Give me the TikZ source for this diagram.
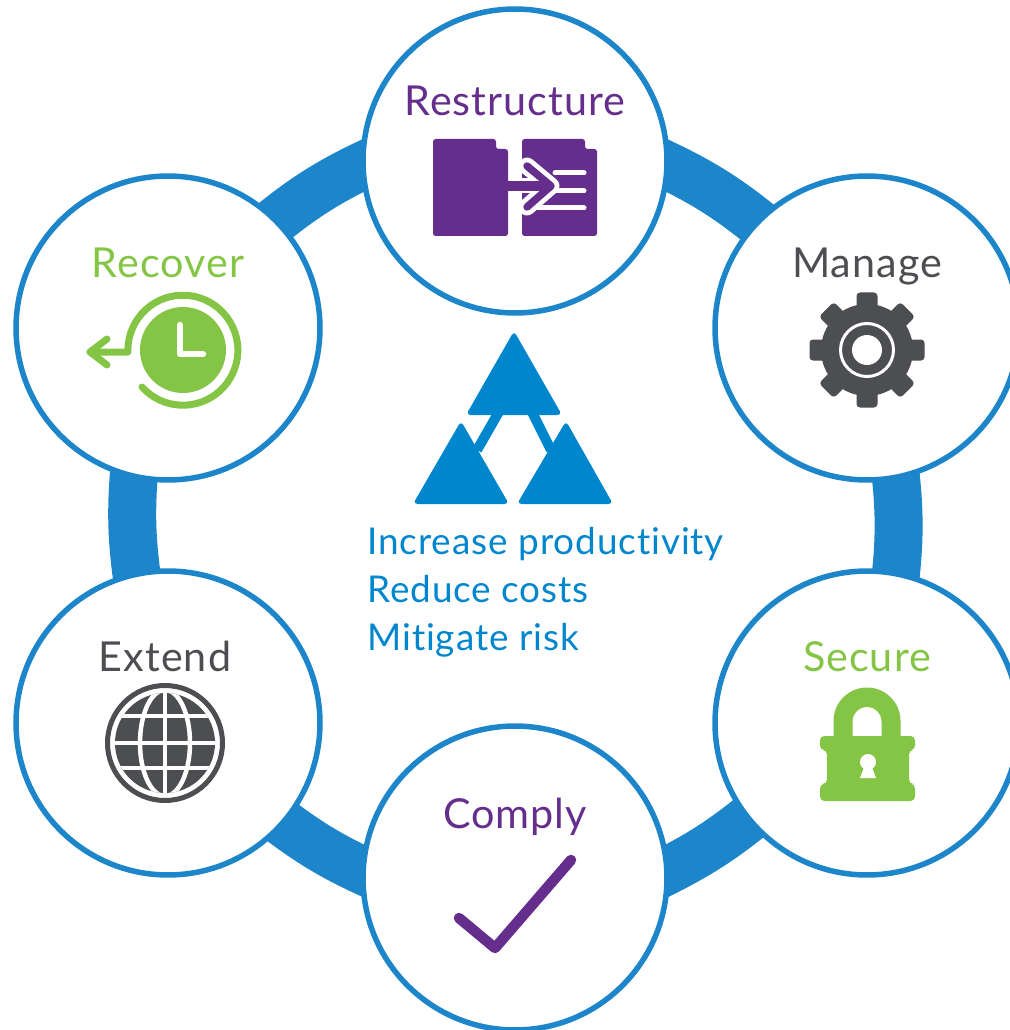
\documentclass[tikz,border=0pt]{standalone}
\usepackage{fontspec}
\setmainfont{Lato}[LetterSpace=2.5, Ligatures=NoCommon]
\usepackage{tikz}
\usetikzlibrary{backgrounds}
\definecolor{ringblue}{HTML}{1D85CA}
\definecolor{textblue}{HTML}{0086CD}
\definecolor{dellpurple}{HTML}{662E8C}
\definecolor{dellgreen}{HTML}{85C546}
\definecolor{dellgrey}{HTML}{4C4E52}
\newcommand{\labelsize}{\fontsize{23.5}{28}\selectfont}
\newcommand{\bodysize}{\fontsize{21}{26}\selectfont}
\tikzset{
    stage/.style = {circle, draw = ringblue, fill = white, line width = 0.11cm, minimum size = 6.08cm, inner sep = 0pt},
    ringlink/.style = {draw = ringblue, line width = 0.96cm, looseness = 0.85, shorten > = -0.5cm, shorten < = -0.5cm},
    stagelabel/.style = {anchor = base, font = \labelsize},
    goal/.style = {anchor = base west, inner sep = 0pt, text = textblue, font = \bodysize}
}

\begin{document}
\begin{tikzpicture}[x = 0.02cm, y = -0.02cm]
                %\draw[help lines] (0,0) grid (1009,1030);
                \useasboundingbox (0, 0) rectangle (1009, 1030);

                \node[stage] (restructure) at (515, 161) {};
                \node[stage] (manage) at (867, 328) {};
                \node[stage] (secure) at (867, 723) {};
                \node[stage] (comply) at (515, 878) {};
                \node[stage] (extend) at (168, 723) {};
                \node[stage] (recover) at (168, 328) {};

                \begin{pgfonlayer}{background}
                    \draw[ringlink] (recover.45) to[bend left = 8] (restructure.182.6);
                    \draw[ringlink] (restructure.-2.6) to[bend left = 8] (manage.136.3);
                    \draw[ringlink] (manage.-79.5) to[bend left = 7.3] (secure.79.8);
                    \draw[ringlink] (secure.219.7) to[bend left = 7.3] (comply.3);
                    \draw[ringlink] (comply.177) to[bend left = 7.3] (extend.-41.1);
                    \draw[ringlink] (extend.102.9) to[bend left = 7.3] (recover.-103.5);
                \end{pgfonlayer}

                \node[stagelabel, text = dellpurple] (restructurelabel) at (515, 116) {Restructure};
                \node[stagelabel, text = dellgrey] (managelabel) at (867, 277) {Manage};
                \node[stagelabel, text = dellgreen] (securelabel) at (867, 671) {Secure};
                \node[stagelabel, text = dellpurple] (complylabel) at (515, 828) {Comply};
                \node[stagelabel, text = dellgrey] (extendlabel) at (165, 671) {Extend};
                \node[stagelabel, text = dellgreen] (recoverlabel) at (168, 277) {Recover};

                \node[goal] (productivity) at (367, 554) {Increase productivity};
                \node[goal] (costs) at (367, 602) {Reduce costs};
                \node[goal] (risk) at (367, 650) {Mitigate risk};

                % three triangles
                \begin{scope}[fill = textblue, rounded corners = 2.5pt]
                    \draw[textblue, line width = 0.2cm, rounded corners = 0pt] (500, 410) -- (477, 450);
                    \draw[textblue, line width = 0.2cm, rounded corners = 0pt] (531, 410) -- (551, 450);
                    \fill (514, 331) -- (562, 415) -- (466, 415) -- cycle;
                    \fill (461, 421) -- (509, 504) -- (413, 504) -- cycle;
                    \fill (566, 421) -- (613, 504) -- (517, 504) -- cycle;
                \end{scope}

                % restructure icon
                \begin{scope}[fill = dellpurple, rounded corners = 1.5pt]
                    \fill (433, 139) -- (496, 139) -- (496, 149) -- (508, 149) -- (508, 236) -- (433, 236) -- cycle;
                    \fill (522, 139) -- (585, 139) -- (585, 149) -- (597, 149) -- (597, 236) -- (522, 236) -- cycle;
                \end{scope}
                \begin{scope}[line cap = round, line join = round]
                    \draw[white, line width = 0.1cm] (555, 173) -- (584, 173);
                    \draw[white, line width = 0.1cm] (556, 191) -- (584, 191);
                    \draw[white, line width = 0.1cm] (538, 208) -- (584, 208);
                    \draw[white, line width = 0.34cm] (527, 166) -- (551, 186) -- (527, 207);
                    \draw[white, line width = 0.3cm, line cap = butt] (522, 186) -- (545, 186);
                    \draw[dellpurple, line width = 0.2cm, line cap = butt] (508, 186) -- (547, 186);
                    \draw[dellpurple, line width = 0.15cm] (527, 166) -- (551, 186) -- (527, 207);
                \end{scope}

                % manage icon
                \begin{scope}[shift = {(867, 350)}]
                    \fill[dellgrey] (0, 0) circle (46);
                    \foreach \ang in {0, 45, ..., 315} {
                        \fill[dellgrey, rounded corners = 2pt, rotate = \ang] (35, -10.5) rectangle (57.5, 10.5);
                    }
                    \draw[white, line width = 0.06cm] (0, 0) circle (26.5);
                    \fill[white] (0, 0) circle (15);
                \end{scope}

                % recover icon
                \begin{scope}[shift = {(183, 350)}]
                    \fill[dellgreen] (0, 0) circle (43);
                    \draw[white, line width = 0.13cm, line cap = round, line join = round] (-3, -25) -- (-3, 4) -- (20, 4);
                    \draw[dellgreen, line width = 0.14cm, line cap = round, line join = round] (-41, 37) arc (138:-180:55) -- (-55, 2) -- (-93, 2);
                    \draw[dellgreen, line width = 0.14cm, line cap = round, line join = round] (-76, -11) -- (-93, 2) -- (-76, 15);
                \end{scope}

                % secure icon
                \begin{scope}[shift = {(867, 0)}]
                    \fill[dellgreen, even odd rule] (-33.5, 740) -- (-33.5, 721) arc (180:360:33.5) -- (33.5, 740) -- cycle
                        (-14.5, 736) -- (-14.5, 721.5) arc (180:360:14.5) -- (14.5, 736) -- cycle;
                    \fill[dellgreen, rounded corners = 2.5pt] (-47, 736) -- (48, 736) -- (48, 750) -- (42, 750) -- (42, 784) -- (48, 784) -- (48, 801) -- (-47, 801) -- (-47, 784) -- (-40, 784) -- (-40, 750) -- (-47, 750) -- cycle;
                    \fill[white] (1, 762) circle (8);
                    \fill[white] (-2, 765) -- (4, 765) -- (9, 778) -- (-7, 778) -- cycle;
                \end{scope}

                % extend icon
                \begin{scope}[shift = {(165, 743)}]
                    \draw[dellgrey, line width = 0.1cm] (0, 0) circle (57.5);
                    \fill[dellgrey] (0, 0) circle (50);
                    \begin{scope}
                        \clip (0, 0) circle (50);
                        \draw[white, line width = 0.09cm] (-60, 0) -- (60, 0);
                        \draw[white, line width = 0.09cm] (-60, -27) -- (60, -27);
                        \draw[white, line width = 0.09cm] (-60, 25) -- (60, 25);
                        \draw[white, line width = 0.09cm] (0, -60) -- (0, 60);
                        \draw[white, line width = 0.09cm] (0, 0) ellipse (25 and 53);
                    \end{scope}
                \end{scope}

                % comply icon
                \draw[dellpurple, line width = 0.21cm, line cap = round, line join = round] (459, 918) -- (495, 948) -- (571, 860);

        \end{tikzpicture}
\end{document}
